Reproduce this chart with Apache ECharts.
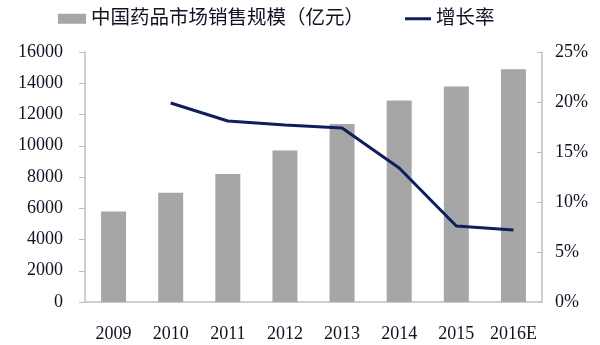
<!DOCTYPE html>
<html>
<head>
<meta charset="utf-8">
<script src="https://cdn.jsdelivr.net/npm/echarts@6/dist/echarts.min.js"></script>
<style>
  html, body { margin: 0; padding: 0; background: #fff; }
  #chart { width: 600px; height: 345px; }
</style>
</head>
<body>
<div id="chart"></div>
<script>
// Years on the category axis
const years = ['2009', '2010', '2011', '2012', '2013', '2014', '2015', '2016E'];
// Market size, 亿元
const marketSize = [5800, 7000, 8200, 9700, 11400, 12900, 13800, 14900];
// Year-on-year growth, %
const growthRate = [null, 19.9, 18.1, 17.7, 17.4, 13.4, 7.6, 7.2];

const barName = '中国药品市场销售规模（亿元）';
const lineName = '增长率';

const fontFamily = '"Liberation Serif", "Times New Roman", "Noto Sans CJK SC", serif';
const axisGrey = '#bfbfbf';
const textColor = '#111122';
const barColor = '#a6a6a6';
const lineColor = '#0e1f5b';

const legendText = { fontSize: 19.5, color: textColor, fontFamily: fontFamily };

const chart = echarts.init(document.getElementById('chart'), null, { renderer: 'canvas' });
chart.setOption({
  animation: false,
  backgroundColor: '#fff',
  textStyle: { fontFamily: fontFamily },
  legend: [
    {
      top: 4,
      left: 53,
      itemWidth: 28,
      itemHeight: 10,
      textStyle: legendText,
      data: [{ name: barName, icon: 'rect' }]
    },
    {
      top: 4,
      left: 400,
      itemWidth: 26,
      itemHeight: 3,
      textStyle: legendText,
      data: [{ name: lineName, icon: 'rect' }]
    }
  ],
  grid: { left: 85, right: 58, top: 52, bottom: 43 },
  xAxis: {
    type: 'category',
    data: years,
    axisLine: { show: true, lineStyle: { color: axisGrey, width: 1.5 } },
    axisTick: { show: false },
    axisLabel: { interval: 0, fontSize: 18, color: textColor, margin: 23, fontFamily: fontFamily }
  },
  yAxis: [
    {
      type: 'value',
      min: 0,
      max: 16000,
      interval: 2000,
      position: 'left',
      axisLine: { show: true, lineStyle: { color: axisGrey, width: 1.5 } },
      axisTick: { show: true, length: 6, lineStyle: { color: axisGrey } },
      splitLine: { show: false },
      axisLabel: {
        fontSize: 18, color: textColor, margin: 22, fontFamily: fontFamily,
        formatter: v => String(v)
      }
    },
    {
      type: 'value',
      min: 0,
      max: 25,
      interval: 5,
      position: 'right',
      axisLine: { show: true, lineStyle: { color: axisGrey, width: 1.5 } },
      axisTick: { show: true, inside: true, length: 5, lineStyle: { color: axisGrey } },
      splitLine: { show: false },
      axisLabel: {
        fontSize: 18, color: textColor, margin: 13, fontFamily: fontFamily,
        formatter: v => v + '%'
      }
    }
  ],
  series: [
    {
      name: barName,
      type: 'bar',
      data: marketSize,
      barWidth: 25,
      itemStyle: { color: barColor },
      yAxisIndex: 0
    },
    {
      name: lineName,
      type: 'line',
      data: growthRate,
      yAxisIndex: 1,
      symbol: 'none',
      lineStyle: { color: lineColor, width: 3 },
      itemStyle: { color: lineColor }
    }
  ]
});
</script>
</body>
</html>
